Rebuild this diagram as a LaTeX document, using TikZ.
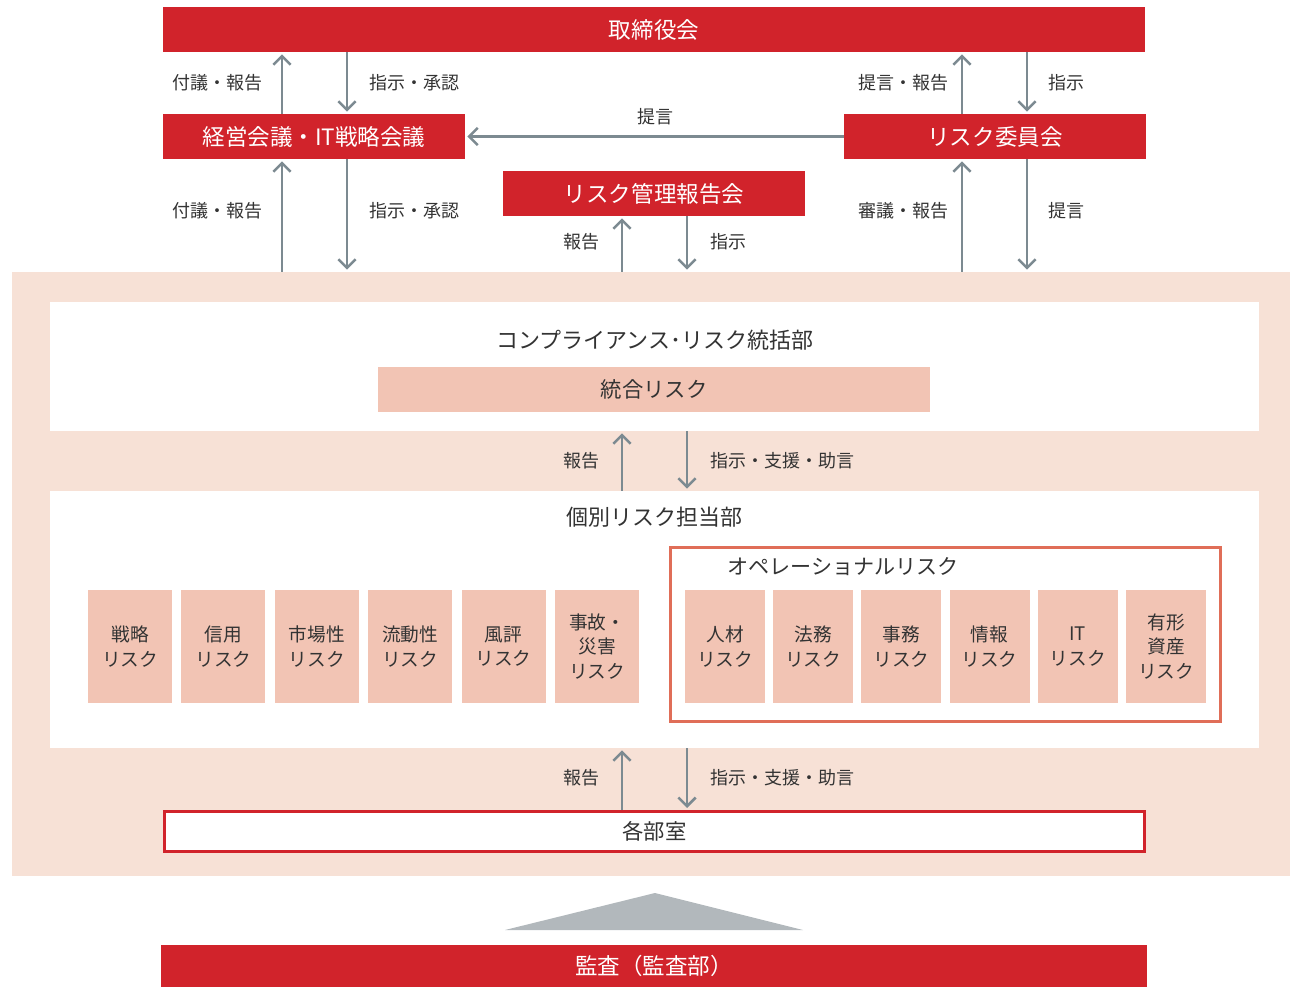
\documentclass[tikz,border=0pt]{standalone}
\usepackage{fontspec}
\setmainfont{Noto Sans CJK JP}
\usetikzlibrary{arrows.meta}
\definecolor{jred}{HTML}{D1232B}
\definecolor{bgpink}{HTML}{F7E1D6}
\definecolor{boxpink}{HTML}{F2C4B4}
\definecolor{framec}{HTML}{E06E58}
\definecolor{arrgray}{HTML}{7C8A91}
\definecolor{txt}{HTML}{333333}
\definecolor{trigray}{HTML}{B2B8BC}
\begin{document}
\begin{tikzpicture}[x=0.75pt,y=-0.75pt,
  redbar/.style={fill=jred, text=white, inner sep=0pt, minimum height=33.75pt, font=\fontsize{16.9}{20}\selectfont},
  region/.style={fill=white, inner sep=0pt},
  riskbox/.style={fill=boxpink, text=txt, inner sep=0pt, minimum height=84.75pt, align=center, font=\fontsize{14}{18.4}\selectfont},
  lbl/.style={text=txt, inner sep=0pt, font=\fontsize{13.5}{15}\selectfont},
  ttl/.style={text=txt, inner sep=0pt, font=\fontsize{16.5}{20}\selectfont},
  arr/.style={draw=arrgray, line width=1.9pt, -{Straight Barb[length=6.5pt,width=13pt,line width=1.9pt]}, shorten >=1.5pt}
]
\useasboundingbox (0,0) rectangle (1290,987);

% background regions
\node[fill=bgpink, inner sep=0pt, minimum width=958.5pt, minimum height=453pt] (bg) at (651,574) {};
\node[region, minimum width=906.75pt, minimum height=96.75pt] (crd) at (654.5,366.5) {};
\node[region, minimum width=906.75pt, minimum height=192.75pt] (ind) at (654.5,619.5) {};

% top bars
\node[redbar, minimum width=736.5pt] (board) at (654,29.5) {取締役会};
\node[redbar, minimum width=226.5pt] (mgmt) at (314,136.5) {経営会議・IT戦略会議};
\node[redbar, minimum width=226.5pt] (riskc) at (995,136.5) {リスク委員会};
\node[redbar, minimum width=226.5pt] (rmr) at (654,193.5) {リスク管理報告会};

% arrows board <-> mgmt / riskc
\draw[arr] (mgmt.north -| 282,0) -- (board.south -| 282,0);
\draw[arr] (board.south -| 347,0) -- (mgmt.north -| 347,0);
\draw[arr] (riskc.north -| 962,0) -- (board.south -| 962,0);
\draw[arr] (board.south -| 1027,0) -- (riskc.north -| 1027,0);
\draw[arr] (riskc.west) -- (mgmt.east);
\node[lbl, anchor=east] (l1) at (263,83) {付議・報告};
\node[lbl, anchor=west] (l2) at (369,83) {指示・承認};
\node[lbl, anchor=east] (l3) at (949,83) {提言・報告};
\node[lbl, anchor=west] (l4) at (1048,83) {指示};
\node[lbl] (l5) at (655,117) {提言};

% arrows to background
\draw[arr] (bg.north -| 282,0) -- (mgmt.south -| 282,0);
\draw[arr] (mgmt.south -| 347,0) -- (bg.north -| 347,0);
\draw[arr] (bg.north -| 962,0) -- (riskc.south -| 962,0);
\draw[arr] (riskc.south -| 1027,0) -- (bg.north -| 1027,0);
\draw[arr] (bg.north -| 622,0) -- (rmr.south -| 622,0);
\draw[arr] (rmr.south -| 687,0) -- (bg.north -| 687,0);
\node[lbl, anchor=east] (l6) at (263,211) {付議・報告};
\node[lbl, anchor=west] (l7) at (369,211) {指示・承認};
\node[lbl, anchor=east] (l8) at (949,211) {審議・報告};
\node[lbl, anchor=west] (l9) at (1048,211) {提言};
\node[lbl, anchor=east] (l10) at (600,242) {報告};
\node[lbl, anchor=west] (l11) at (710,242) {指示};

% compliance dept
\node[ttl] (crdt) at (655,340) {コンプライアンス･リスク統括部};
\node[fill=boxpink, text=txt, inner sep=0pt, minimum width=414pt, minimum height=33.75pt, font=\fontsize{16}{20}\selectfont] (integ) at (654,389.5) {統合リスク};

\draw[arr] (ind.north -| 622,0) -- (crd.south -| 622,0);
\draw[arr] (crd.south -| 687,0) -- (ind.north -| 687,0);
\node[lbl, anchor=east] (l12) at (600,461) {報告};
\node[lbl, anchor=west] (l13) at (710,461) {指示・支援・助言};

% individual risk dept
\node[ttl] (indt) at (654,517) {個別リスク担当部};
\node[riskbox, minimum width=63pt] (r1) at (130,646.5) {戦略\\リスク};
\node[riskbox, minimum width=63pt] (r2) at (223.4,646.5) {信用\\リスク};
\node[riskbox, minimum width=63pt] (r3) at (316.8,646.5) {市場性\\リスク};
\node[riskbox, minimum width=63pt] (r4) at (410.2,646.5) {流動性\\リスク};
\node[riskbox, minimum width=63pt] (r5) at (503.6,646.5) {風評\\リスク};
\node[riskbox, minimum width=63pt] (r6) at (597,646.5) {事故・\\災害\\リスク};

\node[draw=framec, line width=2.25pt, inner sep=0pt, minimum width=412.5pt, minimum height=130.5pt] (opf) at (945.5,634.5) {};
\node[ttl, anchor=west, font=\fontsize{15.8}{20}\selectfont] (opt) at (727,567) {オペレーショナルリスク};
\node[riskbox, minimum width=60pt] (o1) at (725,646.5) {人材\\リスク};
\node[riskbox, minimum width=60pt] (o2) at (813.2,646.5) {法務\\リスク};
\node[riskbox, minimum width=60pt] (o3) at (901.4,646.5) {事務\\リスク};
\node[riskbox, minimum width=60pt] (o4) at (989.6,646.5) {情報\\リスク};
\node[riskbox, minimum width=60pt] (o5) at (1077.8,646.5) {IT\\リスク};
\node[riskbox, minimum width=60pt] (o6) at (1166,646.5) {有形\\資産\\リスク};

% departments
\node[draw=jred, fill=white, line width=2.25pt, text=txt, inner sep=0pt, minimum width=735pt, minimum height=30pt, font=\fontsize{16}{20}\selectfont] (dept) at (654.5,831.5) {各部室};
\draw[arr] (dept.north -| 622,0) -- (ind.south -| 622,0);
\draw[arr] (ind.south -| 687,0) -- (dept.north -| 687,0);
\node[lbl, anchor=east] (l14) at (600,778) {報告};
\node[lbl, anchor=west] (l15) at (710,778) {指示・支援・助言};

% audit
\fill[trigray] (505,930) -- (655,893) -- (803,930) -- cycle;
\node[redbar, minimum width=739.5pt, minimum height=31.5pt] (audit) at (654,966) {監査（監査部）};
\end{tikzpicture}
\end{document}
